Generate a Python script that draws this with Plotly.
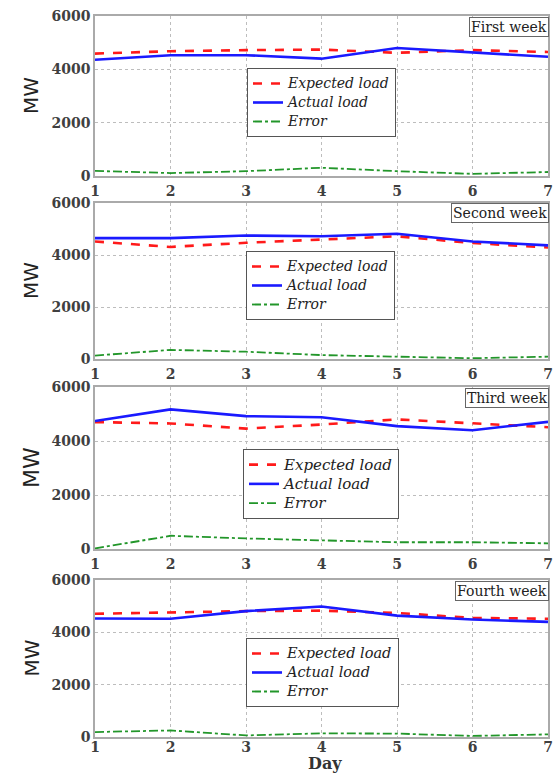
import plotly.graph_objects as go

days = [1, 2, 3, 4, 5, 6, 7]

expected_w1 = [4590, 4680, 4720, 4740, 4620, 4720, 4650]
actual_w1 = [4360, 4530, 4530, 4400, 4800, 4630, 4470]
error_w1 = [190, 110, 180, 310, 180, 80, 150]

expected_w2 = [4520, 4310, 4470, 4600, 4720, 4460, 4290]
actual_w2 = [4650, 4650, 4750, 4720, 4820, 4520, 4370]
error_w2 = [130, 350, 280, 150, 90, 30, 90]

expected_w3 = [4700, 4650, 4460, 4610, 4800, 4650, 4510]
actual_w3 = [4740, 5170, 4920, 4880, 4550, 4400, 4710]
error_w3 = [20, 490, 390, 310, 250, 250, 210]

expected_w4 = [4710, 4770, 4810, 4830, 4740, 4550, 4520]
actual_w4 = [4530, 4520, 4810, 4990, 4640, 4490, 4400]
error_w4 = [190, 250, 60, 140, 130, 40, 100]

week_names = ["First week", "Second week", "Third week", "Fourth week"]
series_names = ["Expected load", "Actual load", "Error"]
y_ticks = [0, 2000, 4000, 6000]

W, H = 558, 774
# pixel boxes of the four panels (top, bottom)
panels = [(16, 176), (203, 359), (387, 549), (580, 737)]
x_left, x_right = 95, 548
# legend: left px, top px, row font (controls row height), text font
legend_boxes = [(247, 68, 11, 14), (246, 251, 11, 14), (243, 449, 12.5, 15), (246, 638, 12, 14.5)]
mw_sizes = [20, 20, 22, 20]
xtick_standoff = [1, 1, 1, -4]

series = [
    (expected_w1, actual_w1, error_w1),
    (expected_w2, actual_w2, error_w2),
    (expected_w3, actual_w3, error_w3),
    (expected_w4, actual_w4, error_w4),
]

serif = "DejaVu Serif"
fig = go.Figure()
layout = dict(
    width=W, height=H,
    margin=dict(l=0, r=0, t=0, b=0, pad=0, autoexpand=False),
    paper_bgcolor="white", plot_bgcolor="white",
    showlegend=True,
    annotations=[],
)

for i, (exp, act, err) in enumerate(series):
    n = i + 1
    xa = "x" if n == 1 else f"x{n}"
    ya = "y" if n == 1 else f"y{n}"
    lg = "legend" if n == 1 else f"legend{n}"
    lx, ly, rowfs, fs = legend_boxes[i]
    nm = [f"<span style='font-size:{fs}px'>{s}</span>" for s in series_names]
    fig.add_trace(go.Scatter(x=days, y=exp, mode="lines", name=nm[0],
                             line=dict(color="#ff1a1a", width=2.6, dash="dash"),
                             xaxis=xa, yaxis=ya, legend=lg))
    fig.add_trace(go.Scatter(x=days, y=act, mode="lines", name=nm[1],
                             line=dict(color="#1a1aff", width=2.6),
                             xaxis=xa, yaxis=ya, legend=lg))
    fig.add_trace(go.Scatter(x=days, y=err, mode="lines", name=nm[2],
                             line=dict(color="#22962a", width=1.8, dash="dashdot"),
                             xaxis=xa, yaxis=ya, legend=lg))
    top, bot = panels[i]
    dom_y = [1 - bot / H, 1 - top / H]
    axcommon = dict(showline=True, linecolor="#aaaaaa", linewidth=1.5, mirror=True,
                    showgrid=True, gridcolor="#bdbdbd", griddash="dot", gridwidth=1,
                    zeroline=False, ticks="", automargin=False,
                    tickfont=dict(family=serif, size=14, color="#404040", weight="bold"))
    layout["xaxis" if n == 1 else f"xaxis{n}"] = dict(
        axcommon, domain=[x_left / W, x_right / W], range=[1, 7],
        tickmode="array", tickvals=days, anchor=ya, ticklabelstandoff=xtick_standoff[i])
    layout["yaxis" if n == 1 else f"yaxis{n}"] = dict(
        axcommon, domain=dom_y, range=[0, 6000],
        tickmode="array", tickvals=y_ticks, anchor=xa, ticklabelstandoff=0)
    layout[lg] = dict(x=lx / W, y=1 - ly / H, xanchor="left", yanchor="top",
                      bgcolor="white", bordercolor="#555555", borderwidth=1,
                      font=dict(family=serif, size=rowfs, color="#222222", style="italic"),
                      tracegroupgap=0, itemwidth=30)
    layout["annotations"].append(dict(
        text=week_names[i], xref="paper", yref="paper",
        x=(x_right + 0.5) / W, y=1 - (top + 0.5) / H, xanchor="right", yanchor="top",
        showarrow=False, bgcolor="white", bordercolor="#666666", borderwidth=1,
        borderpad=1, font=dict(family=serif, size=14, color="#222222")))
    layout["annotations"].append(dict(
        text="MW", xref="paper", yref="paper", x=31 / W, y=1 - ((top + bot) / 2) / H,
        xanchor="center", yanchor="middle", textangle=-90, showarrow=False,
        font=dict(family="DejaVu Sans", size=mw_sizes[i], color="#222222")))

layout["annotations"].append(dict(
    text="Day", xref="paper", yref="paper", x=325 / W, y=0,
    xanchor="center", yanchor="bottom", showarrow=False, borderpad=0,
    font=dict(family=serif, size=16, color="#333333", weight="bold")))

fig.update_layout(**layout)
fig.write_html("out.html")
